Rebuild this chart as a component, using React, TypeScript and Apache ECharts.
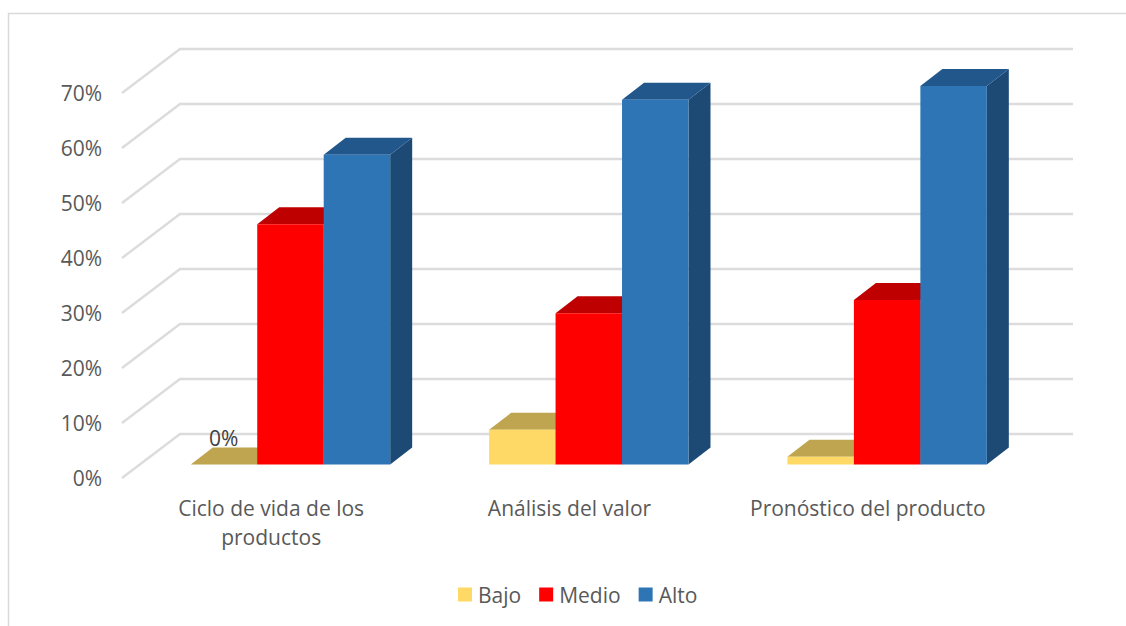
import React, { useEffect, useRef } from "react";
import * as echarts from "echarts";

const categories = ["Ciclo de vida de los\nproductos", "Análisis del valor", "Pronóstico del producto"];
const bajo = [0, 0.063, 0.014];
const medio = [0.437, 0.275, 0.299];
const alto = [0.563, 0.663, 0.688];
const ticks = [0, 0.1, 0.2, 0.3, 0.4, 0.5, 0.6, 0.7];
const FONT = "'Open Sans', sans-serif";

const BACK = { x: 58, y: -44 };
const BACK_RIGHT = 56;
const FRONT = { x: 19.3, y: -13.5 };
const DEPTH = { x: 22, y: -17 };
const BAR_FRACTION = 0.2228;

function gridRender(params: any, api: any) {
  const cs = params.coordSys;
  const y = api.coord([0, api.value(1)])[1];
  const x0 = cs.x;
  const x1 = cs.x + cs.width;
  return {
    type: "polyline",
    silent: true,
    shape: { points: [[x0, y], [x0 + BACK.x, y + BACK.y], [x1 + BACK_RIGHT, y + BACK.y]] },
    style: { fill: "none", stroke: "#dcdcdc", lineWidth: 2.4 },
  };
}

function barRender(slot: number, front: string, top: string, side: string, labelZero: boolean) {
  return (_params: any, api: any) => {
    const cat = api.value(0);
    const v = api.value(1);
    const w = api.size([1, 0])[0] * BAR_FRACTION;
    const c = api.coord([cat, v]);
    const b = api.coord([cat, 0]);
    const xl = c[0] + FRONT.x + (slot - 1.5) * w;
    const xr = xl + w;
    const yt = c[1] + FRONT.y;
    const yb = b[1] + FRONT.y;
    const children: any[] = [
      { type: "polygon", shape: { points: [[xr, yt], [xr + DEPTH.x, yt + DEPTH.y], [xr + DEPTH.x, yb + DEPTH.y], [xr, yb]] }, style: { fill: side } },
      { type: "polygon", shape: { points: [[xl, yt], [xl + DEPTH.x, yt + DEPTH.y], [xr + DEPTH.x, yt + DEPTH.y], [xr, yt]] }, style: { fill: top } },
      { type: "rect", shape: { x: xl, y: yt, width: w, height: yb - yt }, style: { fill: front } },
    ];
    if (labelZero && v === 0) {
      children.push({
        type: "text",
        x: xl + 33,
        y: yt - 27,
        style: { text: `${Math.round(v * 100)}%`, fill: "#404040", font: `21px ${FONT}`, align: "center", verticalAlign: "middle" },
      });
    }
    return { type: "group", children };
  };
}

function barSeries(name: string, values: number[], slot: number, front: string, top: string, side: string, labelZero = false) {
  return {
    name,
    type: "custom",
    coordinateSystem: "cartesian2d",
    itemStyle: { color: front },
    encode: { x: 0, y: 1 },
    clip: false,
    silent: true,
    z: 3,
    data: values.map((v, i) => [i, v]),
    renderItem: barRender(slot, front, top, side, labelZero),
  };
}

export default function App() {
  const ref = useRef<HTMLDivElement>(null);
  useEffect(() => {
    const chart = echarts.init(ref.current!, undefined, { renderer: "svg" });
    chart.setOption({
      animation: false,
      backgroundColor: "#ffffff",
      textStyle: { fontFamily: FONT },
      grid: { left: 122, top: 93, width: 895, height: 385, containLabel: false },
      xAxis: {
        type: "category",
        data: categories,
        axisLine: { show: false },
        axisTick: { show: false },
        axisLabel: { color: "#595959", fontSize: 21, fontFamily: FONT, margin: 15, lineHeight: 29, interval: 0 },
      },
      yAxis: {
        type: "value",
        min: 0,
        max: 0.7,
        interval: 0.1,
        axisLine: { show: false },
        axisTick: { show: false },
        splitLine: { show: false },
        axisLabel: {
          color: "#595959",
          fontSize: 21,
          fontFamily: FONT,
          margin: 20,
          formatter: (v: number) => `${Math.round(v * 100)}%`,
        },
      },
      legend: {
        data: ["Bajo", "Medio", "Alto"],
        left: 458,
        top: 584,
        padding: 0,
        icon: "rect",
        itemWidth: 14,
        itemHeight: 14,
        itemGap: 18,
        selectedMode: false,
        textStyle: { color: "#595959", fontSize: 21, fontFamily: FONT, padding: [0, 0, 0, 1] },
      },
      graphic: [
        {
          type: "polyline",
          silent: true,
          shape: { points: [[8.5, 626], [8.5, 13.5], [1126, 13.5]] },
          style: { fill: "none", stroke: "#d9d9d9", lineWidth: 1.5 },
        },
      ],
      series: [
        {
          name: "grid",
          type: "custom",
          coordinateSystem: "cartesian2d",
          encode: { x: 0, y: 1 },
          clip: false,
          silent: true,
          z: 1,
          data: ticks.map((t) => [0, t]),
          renderItem: gridRender,
        },
        barSeries("Bajo", bajo, 0, "#FFD966", "#BFA54F", "#A8913F", true),
        barSeries("Medio", medio, 1, "#FF0000", "#BF0000", "#A00000"),
        barSeries("Alto", alto, 2, "#2E75B6", "#22578B", "#1C4A75"),
      ],
    });
    return () => chart.dispose();
  }, []);
  return <div ref={ref} style={{ position: "absolute", left: 0, top: 0, width: 1126, height: 626 }} />;
}
